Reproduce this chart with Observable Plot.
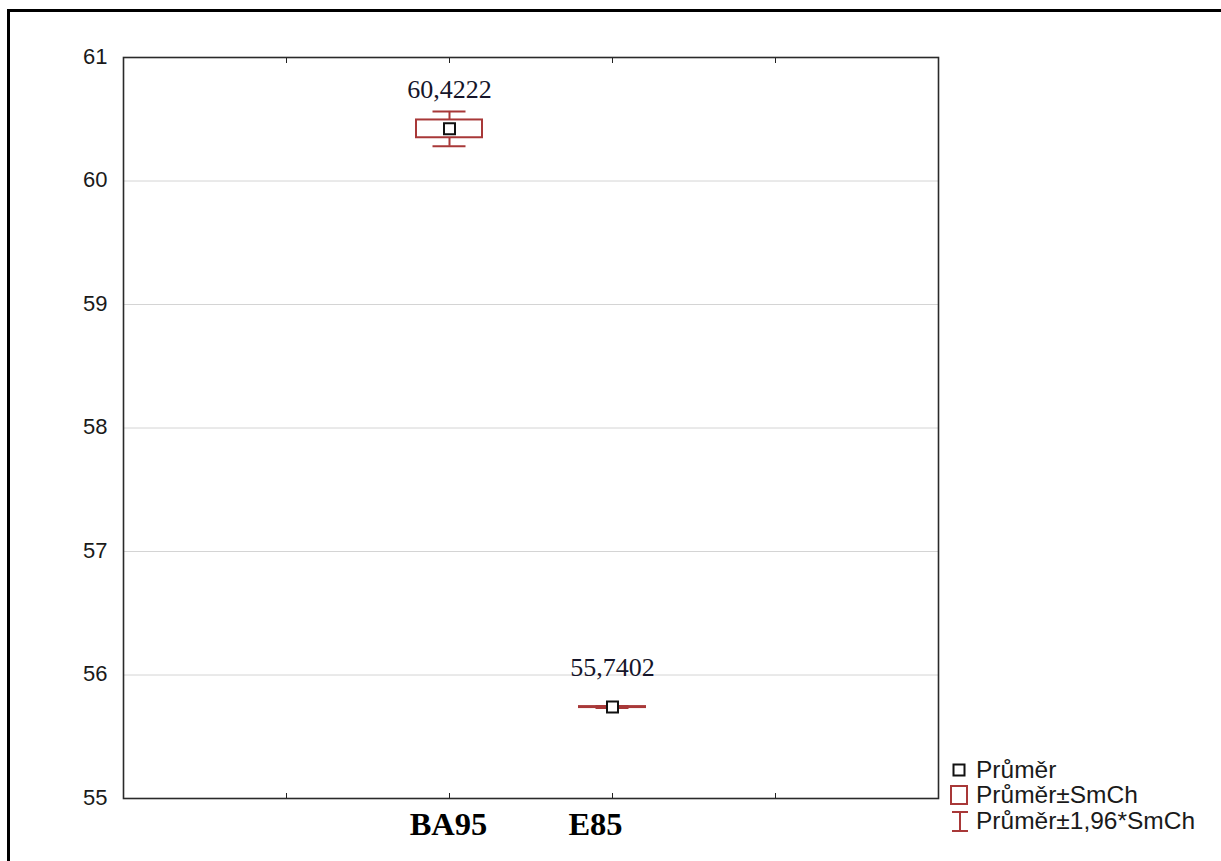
<!DOCTYPE html>
<html><head><meta charset="utf-8">
<script src="https://cdn.jsdelivr.net/npm/d3@7"></script>
<script src="https://cdn.jsdelivr.net/npm/@observablehq/plot@0.6"></script>
<style>
body{margin:0;background:#fff;}
#wrap{position:relative;width:1221px;height:861px;overflow:hidden;background:#fff;}
#chart{position:absolute;left:0;top:0;}
#frame{position:absolute;left:7px;top:9px;width:1400px;height:1000px;border-left:3px solid #000;border-top:3px solid #000;pointer-events:none;}
#legend{position:absolute;left:948px;top:757px;font-family:"Liberation Sans",Arial,sans-serif;font-size:24.5px;color:#1a1a1a;}
.row{display:flex;align-items:center;height:25.5px;white-space:nowrap;}
.sym{width:22px;height:22px;margin-right:6px;flex:none;}
</style></head>
<body><div id="wrap"><div id="chart"></div><div id="frame"></div><div id="legend"></div></div>
<script>
// ---- data ----
const categories = ["BA95", "E85"];
const means = [60.4222, 55.7402];
const stdErrors = [0.072, 0.004];
const yTicks = [55, 56, 57, 58, 59, 60, 61];
const legendLabels = ["Průměr", "Průměr±SmCh", "Průměr±1,96*SmCh"];

const RED = "#a83838";
const data = categories.map((c, i) => ({cat: c, mean: means[i], se: stdErrors[i]}));
const xDomain = [" ", ...categories, "  "];
const fmt = v => v.toFixed(4).replace(".", ",");
const xLabelStyle = {tickSize: 0, tickPadding: 13, fontSize: 32.5, fontWeight: "bold", fontFamily: "Liberation Serif, Times New Roman, serif", fill: "#000", label: null};

const chart = Plot.plot({
  width: 1221, height: 861,
  marginLeft: 123, marginRight: 283, marginTop: 57, marginBottom: 63,
  x: {type: "band", domain: xDomain, paddingInner: 0.595, paddingOuter: 0.7975, align: 0.5},
  y: {domain: [55, 61]},
  style: {background: "transparent", overflow: "visible"},
  marks: [
    Plot.gridY(yTicks, {stroke: "#d4d4d4", strokeOpacity: 1, strokeWidth: 1}),
    Plot.axisY(yTicks, {tickSize: 0, tickPadding: 16, tickFormat: "d", fontSize: 22, fontFamily: "Liberation Sans, Arial, sans-serif", fill: "#1a1a1a", label: null, dy: -1}),
    Plot.axisX(categories.slice(0, 1), {...xLabelStyle, dx: -1}),
    Plot.axisX(categories.slice(1), {...xLabelStyle, dx: -17}),
    Plot.axisX(xDomain, {anchor: "bottom", fill: "none", tickSize: 5, dy: -5, stroke: "#222", label: null}),
    Plot.axisX(xDomain, {anchor: "top", fill: "none", tickSize: 5, dy: 5, stroke: "#222", label: null}),
    Plot.frame({stroke: "#2a2a2a", strokeWidth: 1.6}),
    Plot.ruleX(data, {x: "cat", y1: d => d.mean - 1.96 * d.se, y2: d => d.mean + 1.96 * d.se, stroke: RED, strokeWidth: 2}),
    Plot.tickY(data, {x: "cat", y: d => d.mean + 1.96 * d.se, stroke: RED, strokeWidth: 2, insetLeft: 16.5, insetRight: 16.5}),
    Plot.tickY(data, {x: "cat", y: d => d.mean - 1.96 * d.se, stroke: RED, strokeWidth: 2, insetLeft: 16.5, insetRight: 16.5}),
    Plot.barY(data, {x: "cat", y1: d => d.mean - d.se, y2: d => d.mean + d.se, fill: "white", stroke: RED, strokeWidth: 2, inset: 0}),
    Plot.dot(data, {x: "cat", y: "mean", symbol: "square", r: 6.2, fill: "white", stroke: "#111", strokeWidth: 2}),
    Plot.text(data, {x: "cat", y: "mean", text: d => fmt(d.mean), dy: -39, fontSize: 26, fontFamily: "Liberation Serif, Times New Roman, serif", fill: "#15152a"})
  ]
});
document.getElementById("chart").appendChild(chart);

// ---- legend ----
const symbols = [
  `<svg class="sym" viewBox="0 0 22 22"><rect x="5.5" y="5.5" width="11" height="11" fill="white" stroke="#111" stroke-width="2"/></svg>`,
  `<svg class="sym" viewBox="0 0 22 22"><rect x="3" y="2" width="16" height="18" fill="white" stroke="${RED}" stroke-width="2"/></svg>`,
  `<svg class="sym" viewBox="0 0 22 22"><path d="M4,2H20M4,21H20M12,2V21" fill="none" stroke="${RED}" stroke-width="2"/></svg>`
];
const legend = document.getElementById("legend");
legendLabels.forEach((t, i) => {
  const row = document.createElement("div");
  row.className = "row";
  row.innerHTML = symbols[i] + `<span>${t}</span>`;
  legend.appendChild(row);
});
</script>
</body></html>
